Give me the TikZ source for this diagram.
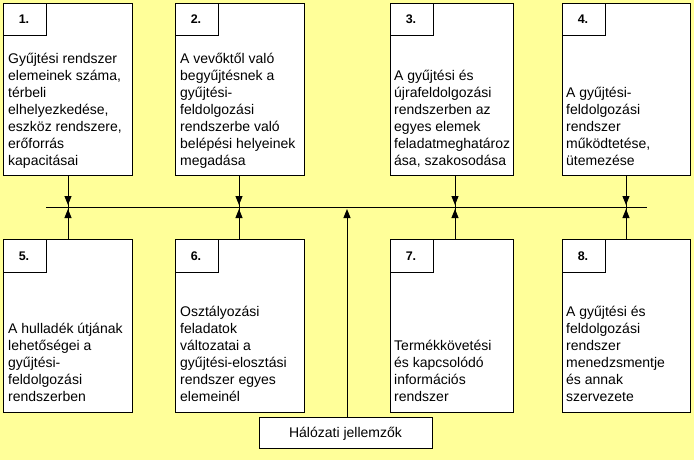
\documentclass[tikz,border=0pt]{standalone}
\usepackage{fontspec}
\setmainfont{Liberation Sans}
\usetikzlibrary{arrows.meta}
\definecolor{bgyellow}{HTML}{FFFF99}
\tikzset{
  bigbox/.style={draw=black, fill=white, line width=1pt, anchor=north west, minimum width=129pt, inner sep=0pt},
  numbox/.style={draw=black, fill=white, line width=1pt, anchor=north west, minimum width=43pt, inner sep=0pt},
  numtxt/.style={anchor=base, inner sep=0pt, font=\fontsize{12.5}{14}\selectfont\bfseries},
  bodytxt/.style={anchor=base west, inner sep=0pt, align=left, font=\fontsize{14}{17}\selectfont},
  conn/.style={line width=1pt},
  arr/.style={line width=1pt, -{Triangle[length=9pt,width=7pt]}}
}
\begin{document}
\begin{tikzpicture}[x=1pt,y=-1pt]
\fill[bgyellow] (0,0) rectangle (694,460);
\useasboundingbox (0,0) rectangle (694,460);

% top boxes
\node[bigbox, minimum height=172pt] (b1) at (3,3) {};
\node[bigbox, minimum height=172pt] (b2) at (175,3) {};
\node[bigbox, minimum height=172pt, minimum width=123pt] (b3) at (390,3) {};
\node[bigbox, minimum height=172pt, minimum width=128pt] (b4) at (562,3) {};
% bottom boxes
\node[bigbox, minimum height=173pt] (b5) at (3,239) {};
\node[bigbox, minimum height=173pt] (b6) at (175,239) {};
\node[bigbox, minimum height=173pt, minimum width=123pt] (b7) at (390,239) {};
\node[bigbox, minimum height=173pt, minimum width=128pt] (b8) at (562,239) {};

% number boxes
\node[numbox, minimum height=32pt] (n1) at (3,3) {};
\node[numbox, minimum height=32pt] (n2) at (175,3) {};
\node[numbox, minimum height=32pt] (n3) at (390,3) {};
\node[numbox, minimum height=32pt] (n4) at (562,3) {};
\node[numbox, minimum height=33pt] (n5) at (3,239) {};
\node[numbox, minimum height=33pt] (n6) at (175,239) {};
\node[numbox, minimum height=33pt] (n7) at (390,239) {};
\node[numbox, minimum height=33pt] (n8) at (562,239) {};

\node[numtxt] (l1) at (24,24) {1.};
\node[numtxt] (l2) at (196,24) {2.};
\node[numtxt] (l3) at (411,24) {3.};
\node[numtxt] (l4) at (583,24) {4.};
\node[numtxt] (l5) at (24,260) {5.};
\node[numtxt] (l6) at (196,260) {6.};
\node[numtxt] (l7) at (411,260) {7.};
\node[numtxt] (l8) at (583,260) {8.};

% body texts (base anchor = last line baseline)
\node[bodytxt] (t1) at (8,165.5) {Gyűjtési rendszer\\elemeinek száma,\\térbeli\\elhelyezkedése,\\eszköz rendszere,\\erőforrás\\kapacitásai};
\node[bodytxt] (t2) at (180,165.5) {A vevőktől való\\begyűjtésnek a\\gyűjtési-\\feldolgozási\\rendszerbe való\\belépési helyeinek\\megadása};
\node[bodytxt] (t3) at (394,165.5) {A gyűjtési és\\újrafeldolgozási\\rendszerben az\\egyes elemek\\feladatmeghatároz\\ása, szakosodása};
\node[bodytxt] (t4) at (566,165.5) {A gyűjtési-\\feldolgozási\\rendszer\\működtetése,\\ütemezése};
\node[bodytxt] (t5) at (8,401) {A hulladék útjának\\lehetőségei a\\gyűjtési-\\feldolgozási\\rendszerben};
\node[bodytxt] (t6) at (180,401) {Osztályozási\\feladatok\\változatai a\\gyűjtési-elosztási\\rendszer egyes\\elemeinél};
\node[bodytxt] (t7) at (394,401) {Termékkövetési\\és kapcsolódó\\információs\\rendszer};
\node[bodytxt] (t8) at (566,401) {A gyűjtési és\\feldolgozási\\rendszer\\menedzsmentje\\és annak\\szervezete};

% network box
\node[draw=black, fill=white, line width=1pt, minimum width=173pt, minimum height=31pt, anchor=north west, inner sep=0pt] (h) at (259,417) {};
\node[anchor=base, inner sep=0pt, font=\fontsize{14}{17}\selectfont] (ht) at (345.5,437) {Hálózati jellemzők};

% horizontal bus
\coordinate (busL) at (46,207);
\coordinate (busR) at (647,207);
\draw[conn] (busL) -- (busR);

% vertical connectors
\foreach \x/\top/\bot in {68/b1/b5, 239/b2/b6, 455/b3/b7, 626/b4/b8}{
  \draw[conn] (\top.south -| \x,0) -- (\bot.north -| \x,0);
  \draw[arr] (\top.south -| \x,0) -- (\x,205);
  \draw[arr] (\bot.north -| \x,0) -- (\x,209);
}
\draw[arr] (h.north -| 347,0) -- (347,209);
\end{tikzpicture}
\end{document}
